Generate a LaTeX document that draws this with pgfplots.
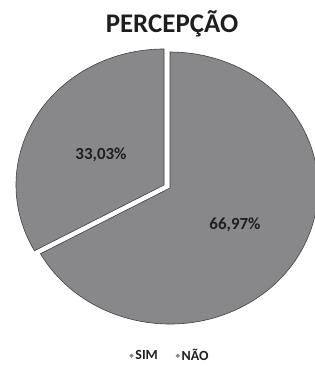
\documentclass[border=0pt]{standalone}
\usepackage{pgfplots}
\pgfplotsset{compat=1.18}
\usepackage{pgfplotstable}
\usepackage{fontspec}
\setmainfont{Carlito}
\definecolor{slicegray}{RGB}{136,136,138}
\definecolor{edgegray}{RGB}{65,65,65}
\definecolor{txtgray}{RGB}{30,30,30}
\pgfplotstableread{
label value
SIM 33.03
NAO 66.97
}\piedata
\begin{document}
\begin{tikzpicture}
\path[use as bounding box] (0,0) rectangle (315bp,366bp);
\pgfplotstablegetelem{0}{value}\of\piedata \let\vsim\pgfplotsretval
\pgfplotstablegetelem{1}{value}\of\piedata \let\vnao\pgfplotsretval
\pgfmathsetmacro{\aStart}{90}
\pgfmathsetmacro{\aMid}{90+3.6*\vsim}
\pgfmathsetmacro{\aEnd}{90+3.6*(\vsim+\vnao)}
\begin{axis}[
  at={(0,0)}, anchor=origin,
  x=1bp, y=1bp, xmin=0, xmax=315, ymin=0, ymax=366,
  hide axis, clip=false,
  legend columns=2,
  legend style={draw=none, fill=none, at={(0.54,0.028)}, anchor=center,
    font=\fontsize{14}{16}\selectfont\bfseries, text=txtgray,
    /tikz/every even column/.append style={column sep=16bp}},
  legend cell align=left,
]
\addlegendimage{only marks, mark=*, mark size=1.9bp, color=slicegray}
\addlegendentry{SIM}
\addlegendimage{only marks, mark=*, mark size=1.9bp, color=slicegray}
\addlegendentry{NÃO}
% SIM slice (exploded)
\filldraw[fill=slicegray, draw=edgegray, line width=0.6bp]
  (axis cs:164,181) -- ([shift={(\aStart:148bp and 136bp)}]axis cs:164,181)
  arc[start angle=\aStart, end angle=\aMid, x radius=148bp, y radius=136bp] -- cycle;
% NAO slice
\filldraw[fill=slicegray, draw=edgegray, line width=0.6bp]
  (axis cs:170,178) -- ([shift={(\aMid:148bp and 136bp)}]axis cs:170,178)
  arc[start angle=\aMid, end angle=\aEnd, x radius=148bp, y radius=136bp] -- cycle;
\node[font=\fontsize{17}{20}\selectfont\bfseries, text=txtgray] at (axis cs:101,211) {33,03\%};
\node[font=\fontsize{17}{20}\selectfont\bfseries, text=txtgray] at (axis cs:235,141) {66,97\%};
\node[font=\fontsize{27}{32}\selectfont\bfseries, text=txtgray] at (axis cs:172,342) {PERCEPÇÃO};
\end{axis}
\end{tikzpicture}
\end{document}
